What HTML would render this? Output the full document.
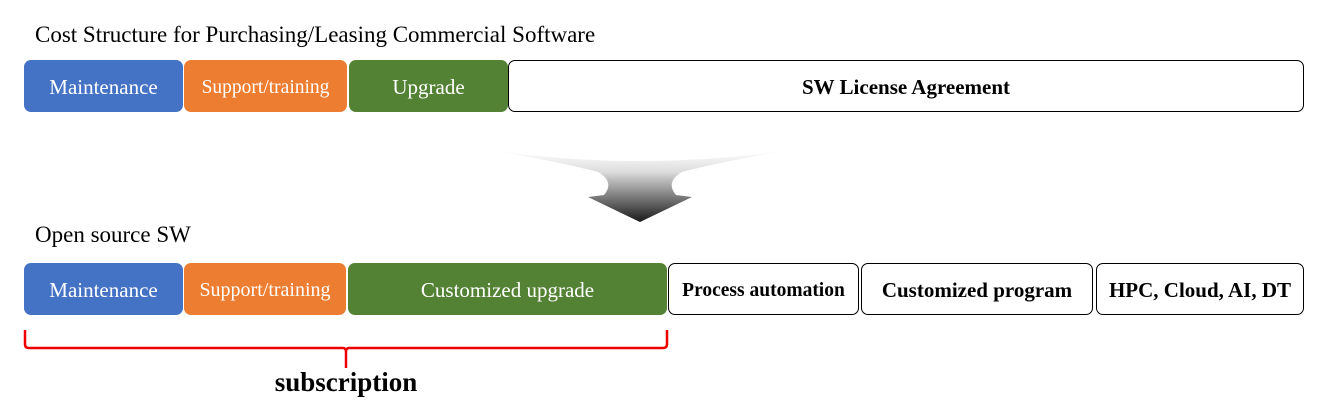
<!DOCTYPE html>
<html><head><style>
body{margin:0;width:1333px;height:407px;background:#fff;position:relative;overflow:hidden;font-family:"Liberation Serif",serif;}
.b{position:absolute;box-sizing:border-box;display:flex;align-items:center;justify-content:center;border-radius:7px;color:#fff;font-size:21px;padding-top:3px;}
.w{background:#fff;color:#000;border:1.5px solid #000;font-weight:bold;font-size:21px;}
.t{position:absolute;font-size:23px;color:#000;}
</style></head><body>
<div class="t" style="left:35px;top:22px">Cost Structure for Purchasing/Leasing Commercial Software</div>
<div class="b" style="left:24px;top:60px;width:159px;height:52px;background:#4472c4">Maintenance</div>
<div class="b" style="left:184px;top:60px;width:163px;height:52px;background:#ed7d31;font-size:19.5px">Support/training</div>
<div class="b" style="left:349px;top:60px;width:159px;height:52px;background:#548235">Upgrade</div>
<div class="b w" style="left:508px;top:60px;width:796px;height:52px">SW License Agreement</div>

<svg style="position:absolute;left:0;top:0" width="1333" height="407">
<defs><linearGradient id="g" x1="0" y1="0" x2="0" y2="1">
<stop offset="0" stop-color="#fff"/><stop offset="0.3" stop-color="#ddd"/><stop offset="1" stop-color="#1a1a1a"/></linearGradient></defs>
<path d="M490,150 Q560,162 598,172 Q615,182 604,195 L588,197 L640,222 L692,197 L676,195 Q665,182 682,172 Q720,162 790,150 Q640,172 490,150 Z" fill="url(#g)"/>
<path d="M25,330 L25,344 Q25,348 29,348 L343,348 Q346,348 346,352 L346,368 L346,352 Q346,348 349,348 L663,348 Q667,348 667,344 L667,330" fill="none" stroke="#e00" stroke-width="2.5"/>
</svg>

<div class="t" style="left:35px;top:222px">Open source SW</div>
<div class="b" style="left:24px;top:263px;width:159px;height:52px;background:#4472c4">Maintenance</div>
<div class="b" style="left:184px;top:263px;width:162px;height:52px;background:#ed7d31;font-size:20px">Support/training</div>
<div class="b" style="left:348px;top:263px;width:319px;height:52px;background:#548235">Customized upgrade</div>
<div class="b w" style="left:668px;top:263px;width:191px;height:52px;font-size:19.5px">Process automation</div>
<div class="b w" style="left:861px;top:263px;width:232px;height:52px">Customized program</div>
<div class="b w" style="left:1096px;top:263px;width:208px;height:52px">HPC, Cloud, AI, DT</div>
<div class="t" style="left:206px;top:367px;width:280px;text-align:center;font-weight:bold;font-size:27px">subscription</div>
</body></html>
